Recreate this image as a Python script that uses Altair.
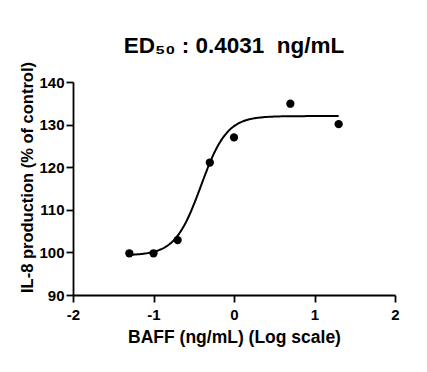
import altair as alt
import pandas as pd

# Data
log_conc = [-1.3, -1.0, -0.7, -0.3, 0.0, 0.7, 1.3]
response = [99.8, 99.8, 102.9, 121.1, 127.0, 134.9, 130.1]

# 4PL fit parameters (as drawn)
fit_bottom = 99.3
fit_top = 132.0
fit_log_ec50 = -0.41
fit_hill = 2.7
curve_start = -1.3
curve_stop = 1.3

x_ticks = [-2, -1, 0, 1, 2]
y_ticks = [90, 100, 110, 120, 130, 140]

FONT = "Liberation Sans"
NBSP = "\u00a0"

pts = pd.DataFrame({"x": log_conc, "y": response})

x_enc = alt.X(
    "x:Q",
    scale=alt.Scale(domain=[-2, 2], nice=False, zero=False),
    axis=alt.Axis(values=x_ticks, title="BAFF (ng/mL) (Log scale)",
                  labelExpr="datum.value < 0 ? '-' + abs(datum.value) : '' + datum.value",
                  titleFontSize=17.5, labelPadding=5, titlePadding=6),
)
y_enc = alt.Y(
    "y:Q",
    scale=alt.Scale(domain=[90, 140], nice=False, zero=False),
    axis=alt.Axis(values=y_ticks, title="IL-8 production (% of control)", titleY=95,
                  titleFontSize=16.5, titlePadding=3),
)

points = alt.Chart(pts).mark_circle(size=68, color="black", opacity=1).encode(x=x_enc, y=y_enc)

curve = (
    alt.Chart(alt.sequence(curve_start, curve_stop + 0.001, 0.01, as_="x"))
    .transform_calculate(
        y=f"{fit_bottom} + ({fit_top} - {fit_bottom}) / (1 + pow(10, ({fit_log_ec50} - datum.x) * {fit_hill}))"
    )
    .mark_line(color="black", strokeWidth=2)
    .encode(x=x_enc, y=y_enc)
)

chart = (
    alt.layer(curve, points)
    .properties(
        width=322,
        height=213,
        autosize=alt.AutoSizeParams(type="none"),
        padding={"left": 73, "top": 82, "right": 32, "bottom": 77},
        title=alt.TitleParams(
            "ED₅₀ : 0.4031" + NBSP + NBSP + "ng/mL",
            font=FONT,
            fontSize=22.5,
            fontWeight="bold",
            color="black",
            anchor="middle",
            baseline="alphabetic",
            offset=-14,
        ),
    )
    .configure_view(stroke=None)
    .configure_axis(
        grid=False,
        domainColor="black",
        domainWidth=1.8,
        tickColor="black",
        tickWidth=1.8,
        tickSize=7,
        labelFont=FONT,
        labelFontSize=15,
        labelFontWeight="bold",
        labelColor="black",
        labelPadding=2,
        titleFont=FONT,
        titleFontWeight="bold",
        titleColor="black",
        labelFlush=False,
    )
)

chart.save("out.html", embed_options={"renderer": "svg", "actions": False})
